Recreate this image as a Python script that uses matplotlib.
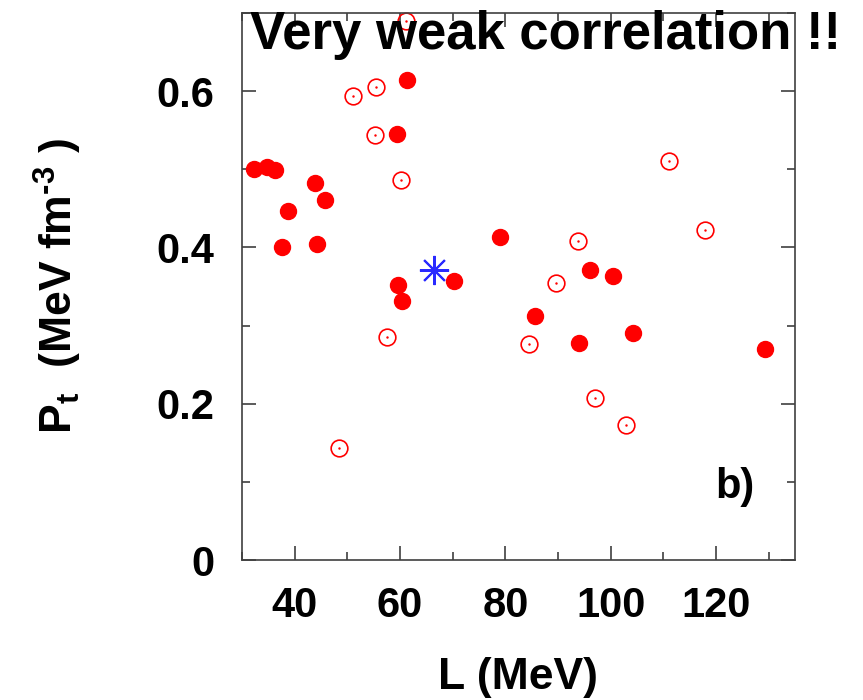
import matplotlib
matplotlib.use("Agg")
from matplotlib import pyplot as plt
from matplotlib.ticker import MultipleLocator, FuncFormatter

# symmetry energy slope L (MeV) vs transition pressure P_t (MeV fm^-3)
filled_L = [32.2, 34.7, 36.3, 37.5, 38.7, 43.8, 44.2, 45.8, 59.4, 59.6,
            60.3, 61.4, 70.2, 79.0, 85.7, 94.0, 96.1, 100.4, 104.3, 129.3]
filled_P = [0.500, 0.503, 0.499, 0.400, 0.447, 0.482, 0.404, 0.461, 0.545, 0.352,
            0.331, 0.614, 0.357, 0.413, 0.312, 0.278, 0.371, 0.363, 0.291, 0.270]

open_L = [48.4, 51.0, 55.2, 55.4, 57.5, 60.2, 61.1, 84.4, 89.6, 93.8,
          97.0, 102.9, 111.0, 118.0]
open_P = [0.143, 0.594, 0.544, 0.605, 0.285, 0.486, 0.690, 0.276, 0.355, 0.408,
          0.207, 0.173, 0.511, 0.422]

star_L = [66.4]
star_P = [0.371]

plt.rcParams['font.family'] = ['Liberation Sans', 'DejaVu Sans']
plt.rcParams['font.weight'] = 'bold'
plt.rcParams['mathtext.fontset'] = 'custom'
plt.rcParams['mathtext.rm'] = 'Liberation Sans:bold'
plt.rcParams['mathtext.bf'] = 'Liberation Sans:bold'
plt.rcParams['mathtext.it'] = 'Liberation Sans:bold'

fig = plt.figure(figsize=(8.63, 7.0), dpi=100)
ax = fig.add_axes([242/863, 140/700, 553/863, 547/700])

ax.plot(filled_L, filled_P, 'o', color='red', ms=11.5, mec='red', clip_on=False)
ax.plot(open_L, open_P, 'o', mfc='none', mec='red', mew=1.2, ms=12, clip_on=False)
ax.plot(open_L, open_P, '.', color='red', ms=1.5, clip_on=False)
ax.plot(star_L, star_P, marker=(8, 2, 0), ls='none', color='#2a2aff', mew=1.5, ms=21)

ax.set_xlim(30, 135)
ax.set_ylim(0, 0.7)
ax.xaxis.set_major_locator(MultipleLocator(20))
ax.xaxis.set_minor_locator(MultipleLocator(10))
ax.yaxis.set_major_locator(MultipleLocator(0.2))
ax.yaxis.set_minor_locator(MultipleLocator(0.1))
ax.yaxis.set_major_formatter(FuncFormatter(lambda v, p: '0' if abs(v) < 1e-9 else f'{v:.1f}'))

frame = '#404040'
for s in ax.spines.values():
    s.set_color(frame)
    s.set_linewidth(1.2)
ax.tick_params(which='both', direction='in', top=True, right=True, color=frame, width=1.2)
ax.tick_params(which='major', length=10, labelsize=30)
ax.tick_params(which='minor', length=6)
ax.tick_params(axis='y', which='major', pad=20)
ax.tick_params(axis='x', which='major', pad=19)
for lab in ax.get_xticklabels() + ax.get_yticklabels():
    lab.set_fontweight('bold')

ax.set_xlabel('L (MeV)', fontsize=32, fontweight='bold', labelpad=22)
ax.set_ylabel(r'P$_{\mathbf{t}}$  (MeV fm$^{\text{-3}}$ )', fontsize=32, fontweight='bold', labelpad=52)

ax.text(0.891, 0.133, 'b)', transform=ax.transAxes, fontsize=30, fontweight='bold',
        ha='center', va='center')

fig.text(250/863, 1 - 49/700, 'Very weak correlation !!', fontsize=38, fontweight='bold',
         ha='left', va='baseline')

fig.savefig('out.png', dpi=100)
